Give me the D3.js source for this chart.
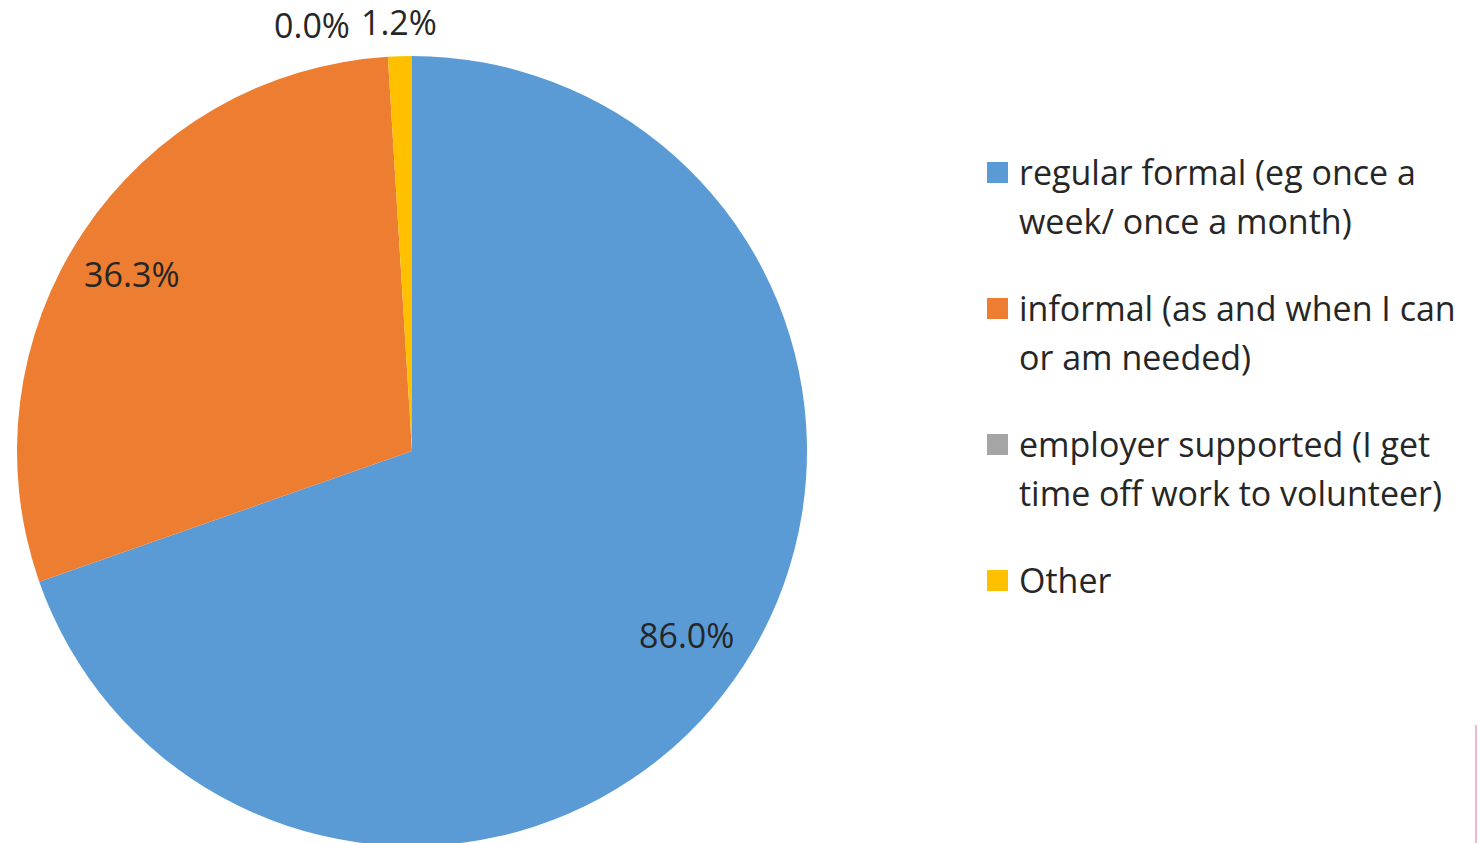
<!DOCTYPE html>
<html>
<head>
<meta charset="utf-8">
<script src="https://cdn.jsdelivr.net/npm/d3@7"></script>
<style>
  body { margin: 0; background: #fff; }
  svg { display: block; }
  text { font-family: "Open Sans", Lato, sans-serif; fill: #262626; }
</style>
</head>
<body>
<svg id="chart" width="1478" height="843"></svg>
<script>
// data
var categories = ["regular formal (eg once a week/ once a month)",
                  "informal (as and when I can or am needed)",
                  "employer supported (I get time off work to volunteer)",
                  "Other"];
var values = [86.0, 36.3, 0.0, 1.2];
var legendLines = [["regular formal (eg once a", "week/ once a month)"],
                   ["informal (as and when I can", "or am needed)"],
                   ["employer supported (I get", "time off work to volunteer)"],
                   ["Other"]];
var colors = ["#5B9BD5", "#ED7D31", "#A5A5A5", "#FFC000"];

var svg = d3.select("#chart");
var cx = 412, cy = 451, radius = 395;
var fontSize = 34;

var dataset = values.map(function(v, i) {
    return {name: categories[i], value: v, color: colors[i], lines: legendLines[i]};
});

var pie = d3.pie().sort(null).value(function(d) { return d.value; });
var arc = d3.arc().innerRadius(0).outerRadius(radius);
var outerArc = d3.arc().innerRadius(428).outerRadius(428);

var arcs = pie(dataset);

var g = svg.append("g")
    .attr("transform", "translate(" + cx + "," + cy + ")");

g.selectAll("path")
    .data(arcs)
    .enter()
    .append("path")
    .attr("d", arc)
    .attr("fill", function(d) { return d.data.color; });

// labels: big slices inside, small ones outside
var fmt = function(v) { return v.toFixed(1) + "%"; };
var big = arcs.filter(function(d) { return d.value >= 5; });
var small = arcs.filter(function(d) { return d.value < 5; });

// excel puts the inside labels a touch back from the mid angle
function labelPos(d) {
    var a = (d.startAngle + d.endAngle) / 2 - 0.025;
    var r = 331;
    return [r * Math.sin(a), -r * Math.cos(a)];
}

g.selectAll(".lbl")
    .data(big)
    .enter()
    .append("text")
    .attr("class", "lbl")
    .attr("transform", function(d) { return "translate(" + labelPos(d) + ")"; })
    .attr("dy", "0.36em")
    .attr("text-anchor", "middle")
    .attr("font-size", fontSize + "px")
    .text(function(d) { return fmt(d.data.value); });

// outside labels; zero slice is pushed left of its neighbour
var other = small.filter(function(d) { return d.value > 0; })[0];
var op = outerArc.centroid(other);
g.append("text")
    .attr("x", op[0])
    .attr("y", op[1])
    .attr("dy", "0.36em")
    .attr("text-anchor", "middle")
    .attr("font-size", fontSize + "px")
    .text(fmt(other.data.value));
small.filter(function(d) { return d.value === 0; }).forEach(function(d) {
    g.append("text")
        .attr("x", op[0] - 49)
        .attr("y", op[1] + 3)
        .attr("dy", "0.36em")
        .attr("text-anchor", "end")
        .attr("font-size", fontSize + "px")
        .text(fmt(d.data.value));
});

// legend
var legend = svg.append("g").attr("transform", "translate(987,185)");
var item = legend.selectAll(".item")
    .data(dataset)
    .enter()
    .append("g")
    .attr("class", "item")
    .attr("transform", function(d, i) { return "translate(0," + (i * 136) + ")"; });

item.append("rect")
    .attr("x", 0)
    .attr("y", -23)
    .attr("width", 21)
    .attr("height", 21)
    .attr("fill", function(d) { return d.color; });

item.append("text")
    .attr("font-size", fontSize + "px")
    .selectAll("tspan")
    .data(function(d) { return d.lines; })
    .enter()
    .append("tspan")
    .attr("x", 32)
    .attr("y", function(d, i) { return i * 49; })
    .text(function(d) { return d; });

// thin pink edge at the right border
svg.append("line")
    .attr("x1", 1476).attr("x2", 1476)
    .attr("y1", 725).attr("y2", 843)
    .attr("stroke", "#F4B8CC")
    .attr("stroke-width", 2);
</script>
</body>
</html>
